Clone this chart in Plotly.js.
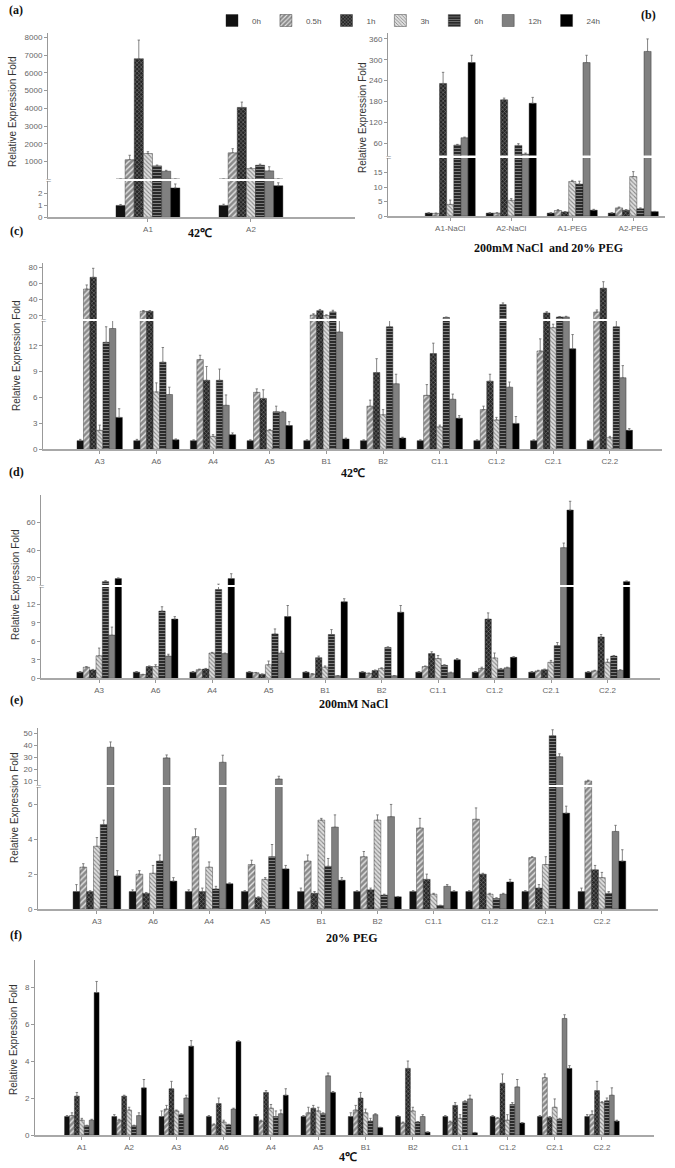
<!DOCTYPE html>
<html>
<head>
<meta charset="utf-8">
<script src="https://cdn.plot.ly/plotly-3.0.1.min.js"></script>
<style>
  html, body { margin: 0; padding: 0; background: #fff; }
  #chart { width: 675px; height: 1168px; }
</style>
</head>
<body>
<div id="chart"></div>
<script>
const W = 675, H = 1168;

// time points (one bar series each)
const series = ['0h', '0.5h', '1h', '3h', '6h', '12h', '24h'];

// categories
const catsA = ['A1', 'A2'];
const catsB = ['A1-NaCl', 'A2-NaCl', 'A1-PEG', 'A2-PEG'];
const catsCDE = ['A3', 'A6', 'A4', 'A5', 'B1', 'B2', 'C1.1', 'C1.2', 'C2.1', 'C2.2'];
const catsF = ['A1', 'A2', 'A3', 'A6', 'A4', 'A5', 'B1', 'B2', 'C1.1', 'C1.2', 'C2.1', 'C2.2'];

// (a) 42C, rows = series
const valsA = [[1.0, 1.0], [1100, 1490], [6800, 4050], [1450, 600], [750, 790], [450, 470], [2.47, 2.65]];
const errA  = [[0.08, 0.1], [250, 230], [1050, 300], [100, 50], [50, 60], [50, 230], [0.33, 0.25]];

// (b) NaCl and PEG
const valsB = [[1, 1, 1, 1], [0.9, 1.0, 1.9, 2.8], [232, 185, 1.4, 2.0], [4.0, 5.4, 11.9, 13.6],
               [55, 54, 11.0, 2.5], [76, 29, 292, 324], [292, 175, 2.0, 1.5]];
const errB  = [[0.1, 0.1, 0.1, 0.1], [0.1, 0.1, 0.3, 0.3], [32, 5, 0.1, 0.2], [1.5, 0.6, 0.4, 1.7],
               [2, 5, 1.0, 0.3], [2, 3, 21, 36], [21, 17, 0.3, 0.1]];

// (c) 42C
const valsC = [[1, 1, 1, 1, 1, 1, 1, 1, 1, 1],
               [53, 25.7, 10.4, 6.6, 21.2, 5.0, 6.25, 4.6, 11.4, 24.9],
               [67.4, 25.7, 8.0, 5.9, 26.5, 8.9, 11.1, 7.9, 23.7, 54],
               [2.2, 6.65, 1.5, 2.2, 20.5, 4.0, 2.6, 3.4, 14.1, 1.35],
               [12.4, 10.1, 8.0, 4.35, 25, 14.2, 18.2, 34, 18.8, 14.2],
               [14.0, 6.35, 5.1, 4.3, 13.6, 7.6, 5.8, 7.2, 18.8, 8.3],
               [3.7, 1.1, 1.7, 2.75, 1.2, 1.3, 3.6, 3.0, 11.65, 2.2]];
const errC  = [[0.15, 0.15, 0.1, 0.1, 0.1, 0.1, 0.1, 0.1, 0.1, 0.15],
               [5, 1, 0.5, 0.4, 1.5, 0.7, 1.25, 0.4, 1.4, 2.5],
               [11, 1, 1.6, 1.0, 1.5, 1.6, 1.2, 0.8, 1.5, 8],
               [0.6, 1.05, 0.2, 0.1, 1, 0.6, 0.2, 0.3, 0.4, 0.15],
               [1.8, 1.7, 1.3, 0.65, 2, 0.8, 0.5, 2, 0.6, 0.8],
               [1.5, 0.85, 1.2, 0.1, 1.9, 1.1, 0.6, 0.6, 0.8, 1.4],
               [1.0, 0.1, 0.2, 0.45, 0.1, 0.1, 0.3, 0.8, 1.65, 0.2]];

// (d) 200mM NaCl
const valsD = [[1, 1, 1, 1, 1, 1, 1, 1, 1, 1],
               [1.8, 0.6, 1.4, 0.9, 0.7, 0.8, 1.9, 1.6, 1.2, 1.2],
               [1.35, 1.9, 1.5, 0.65, 3.35, 1.25, 4.0, 9.6, 1.4, 6.7],
               [3.65, 1.9, 4.1, 2.2, 1.8, 1.6, 3.2, 3.3, 2.6, 2.6],
               [17.3, 10.9, 14.4, 7.2, 7.1, 5.0, 2.1, 1.5, 5.3, 3.6],
               [7.0, 3.6, 4.0, 4.1, 0.4, 0.4, 0.9, 1.7, 41.7, 1.3],
               [19.5, 9.6, 19.5, 10.0, 12.4, 10.7, 3.0, 3.4, 68.7, 17.3]];
const errD  = [[0.1, 0.1, 0.1, 0.1, 0.1, 0.1, 0.1, 0.1, 0.1, 0.1],
               [0.1, 0.05, 0.1, 0.05, 0.05, 0.05, 0.1, 0.2, 0.1, 0.1],
               [0.1, 0.1, 0.1, 0.05, 0.25, 0.1, 0.3, 1.0, 0.1, 0.4],
               [1.25, 0.3, 0.1, 0.6, 0.2, 0.1, 0.5, 0.8, 0.3, 0.5],
               [0.7, 0.7, 1.1, 0.8, 0.8, 0.1, 0.1, 0.1, 0.5, 0.1],
               [1.3, 0.3, 0.1, 0.3, 0.05, 0.05, 0.1, 0.1, 3.3, 0.1],
               [0.5, 0.4, 3.5, 1.8, 0.5, 1.1, 0.2, 0.1, 6.3, 0.5]];

// (e) 20% PEG
const valsE = [[1, 1, 1, 1, 1, 1, 1, 1, 1, 1],
               [2.4, 2.0, 4.15, 2.55, 2.75, 3.0, 4.65, 5.15, 2.95, 10.0],
               [1.0, 0.9, 1.0, 0.65, 0.9, 1.1, 1.7, 2.0, 1.2, 2.25],
               [3.6, 2.05, 2.4, 1.7, 5.1, 5.1, 0.85, 0.85, 2.55, 1.8],
               [4.85, 2.75, 1.15, 3.0, 2.45, 0.8, 0.2, 0.6, 48.3, 0.9],
               [38.5, 29.5, 25.8, 11.7, 4.7, 5.3, 1.3, 0.85, 30.5, 4.45],
               [1.9, 1.6, 1.45, 2.3, 1.65, 0.7, 1.0, 1.55, 5.5, 2.75]];
const errE  = [[0.4, 0.1, 0.1, 0.05, 0.2, 0.05, 0.05, 0.05, 0.05, 0.2],
               [0.2, 0.2, 0.45, 0.25, 0.35, 0.3, 0.55, 0.65, 0.05, 0.7],
               [0.05, 0.05, 0.2, 0.05, 0.1, 0.1, 0.3, 0.05, 0.2, 0.25],
               [0.5, 0.45, 0.3, 0.1, 0.1, 0.3, 0.05, 0.05, 0.45, 0.3],
               [0.25, 0.35, 0.15, 0.7, 0.45, 0.05, 0.02, 0.05, 5, 0.1],
               [4.5, 2.5, 6, 2.3, 0.7, 0.7, 0.1, 0.05, 2.5, 0.35],
               [0.3, 0.2, 0.05, 0.2, 0.15, 0.02, 0.05, 0.15, 0.4, 0.65]];

// (f) 4C
const valsF = [[1, 1, 1, 1, 1, 1, 1, 1, 1, 1, 1, 1],
               [1.05, 0.8, 1.4, 0.55, 0.75, 1.2, 1.35, 0.65, 0.7, 0.9, 3.1, 1.1],
               [2.1, 2.1, 2.5, 1.7, 2.3, 1.45, 2.0, 3.6, 1.6, 2.8, 0.95, 2.4],
               [0.8, 1.35, 1.3, 0.7, 1.45, 1.3, 1.2, 1.3, 0.9, 0.8, 1.5, 1.75],
               [0.5, 0.5, 1.1, 0.55, 1.0, 1.15, 0.75, 0.7, 1.8, 1.65, 0.85, 1.85],
               [0.8, 1.05, 2.0, 1.4, 1.15, 3.2, 1.1, 1.0, 1.95, 2.6, 6.3, 2.15],
               [7.7, 2.55, 4.8, 5.05, 2.15, 2.3, 0.4, 0.15, 0.12, 0.65, 3.6, 0.75]];
const errF  = [[0.05, 0.1, 0.3, 0.05, 0.1, 0.05, 0.2, 0.05, 0.05, 0.05, 0.05, 0.1],
               [0.15, 0.05, 0.2, 0.05, 0.05, 0.3, 0.25, 0.05, 0.05, 0.05, 0.2, 0.2],
               [0.2, 0.05, 0.4, 0.3, 0.1, 0.15, 0.3, 0.4, 0.15, 0.5, 0.05, 0.5],
               [0.1, 0.15, 0.05, 0.1, 0.2, 0.2, 0.2, 0.2, 0.2, 0.3, 0.45, 0.05],
               [0.03, 0.03, 0.05, 0.03, 0.3, 0.05, 0.15, 0.03, 0.05, 0.1, 0.05, 0.15],
               [0.05, 0.15, 0.15, 0.05, 0.2, 0.15, 0.05, 0.1, 0.2, 0.4, 0.2, 0.4],
               [0.6, 0.45, 0.3, 0.05, 0.35, 0.05, 0.02, 0.02, 0.02, 0.02, 0.15, 0.05]];

// y tick labels (lower / upper part of each broken axis)
const ticksALow = [0, 1, 2];
const ticksAUp = [1000, 2000, 3000, 4000, 5000, 6000, 7000, 8000];
const ticksBLow = [0, 5, 10, 15];
const ticksBUp = [60, 120, 180, 240, 300, 360];
const ticksCLow = [0, 3, 6, 9, 12];
const ticksCUp = [20, 40, 60, 80];
const ticksDLow = [0, 3, 6, 9, 12];
const ticksDUp = [20, 40, 60];
const ticksELow = [0, 2, 4, 6];
const ticksEUp = [10, 20, 30, 40, 50];
const ticksF = [0, 2, 4, 6, 8];

// bar fills per time point
const styles = [
  {color: '#111'},
  {color: '#8c8c8c', pattern: {shape: '/', fgcolor: '#e6e6e6', bgcolor: '#8a8a8a', size: 4, solidity: 0.35}},
  {color: '#2b2b2b', pattern: {shape: 'x', fgcolor: '#8a8a8a', bgcolor: '#262626', size: 3, solidity: 0.3}},
  {color: '#d8d8d8', pattern: {shape: '\\', fgcolor: '#8a8a8a', bgcolor: '#dedede', size: 3, solidity: 0.35}},
  {color: '#2e2e2e', pattern: {shape: '-', fgcolor: '#8a8a8a', bgcolor: '#2a2a2a', size: 3, solidity: 0.3}},
  {color: '#808080'},
  {color: '#000'}
];

// panel geometry, in page pixels
const panels = [
  {cats: catsA, vals: valsA, errs: errA, x: [48, 355], xr: [-0.97, 2.01], g: 0.62,
   axes: [{dom: [217.3, 181], r: [0, 3.05], ticks: ticksALow}, {dom: [179, 33], r: [10, 8250], ticks: ticksAUp}],
   label: '(a)', lp: [16, 10], title: '42℃', tp: [200, 233], yt: [13, 112]},
  {cats: catsB, vals: valsB, errs: errB, x: [388, 665], xr: [-1.02, 3.52], g: 0.82,
   axes: [{dom: [216, 158], r: [0, 20], ticks: ticksBLow}, {dom: [155.5, 33], r: [25, 377], ticks: ticksBUp}],
   label: '(b)', lp: [648, 15], title: '200mM NaCl  and 20% PEG', tp: [548, 248], yt: [362, 118]},
  {cats: catsCDE, vals: valsC, errs: errC, x: [43, 662], xr: [-1.0, 9.92], g: 0.8,
   axes: [{dom: [449.3, 321], r: [0, 14.87], ticks: ticksCLow}, {dom: [319, 263], r: [16.3, 84.9], ticks: ticksCUp}],
   label: '(c)', lp: [16, 231], title: '42℃', tp: [353, 473], yt: [16, 356]},
  {cats: catsCDE, vals: valsD, errs: errD, x: [41, 660], xr: [-1.03, 9.93], g: 0.79,
   axes: [{dom: [678.3, 587], r: [0, 14.8], ticks: ticksDLow}, {dom: [585, 495], r: [14.9, 79.5], ticks: ticksDUp}],
   label: '(d)', lp: [16, 472], title: '200mM NaCl', tp: [354, 704], yt: [15, 585]},
  {cats: catsCDE, vals: valsE, errs: errE, x: [38, 658], xr: [-1.05, 10.0], g: 0.85,
   axes: [{dom: [909, 787], r: [0, 7.0], ticks: ticksELow}, {dom: [785, 728], r: [6.6, 54.8], ticks: ticksEUp}],
   label: '(e)', lp: [16, 700], title: '20% PEG', tp: [352, 938], yt: [14, 808]},
  {cats: catsF, vals: valsF, errs: errF, x: [35, 654], xr: [-0.99, 12.1], g: 0.73,
   axes: [{dom: [1135, 960], r: [0, 9.46], ticks: ticksF}],
   label: '(f)', lp: [16, 935], title: '4℃', tp: [348, 1157], yt: [13, 1040]}
];

const tickFont = {family: 'Liberation Sans, Arial', size: 8, color: '#666'};
const serif = {family: 'Liberation Serif, Times New Roman', size: 12, color: '#111'};

const traces = [];
const annotations = [];
const layout = {
  width: W, height: H,
  margin: {l: 0, r: 0, t: 0, b: 0},
  paper_bgcolor: '#fff', plot_bgcolor: 'rgba(0,0,0,0)',
  barmode: 'overlay',
  showlegend: true,
  legend: {orientation: 'h', x: 212 / W, y: 1 - 6 / H, xanchor: 'left', yanchor: 'top',
           font: {family: 'Liberation Sans, Arial', size: 8, color: '#555'},
           itemwidth: 30, tracegroupgap: 0, bgcolor: 'rgba(0,0,0,0)'},
  annotations: annotations
};

let yi = 0;
panels.forEach((p, pi) => {
  const xid = pi === 0 ? 'x' : 'x' + (pi + 1);
  const xkey = pi === 0 ? 'xaxis' : 'xaxis' + (pi + 1);
  const lowId = yi === 0 ? 'y' : 'y' + (yi + 1);
  layout[xkey] = {
    domain: [p.x[0] / W, p.x[1] / W], range: p.xr, type: 'category', anchor: lowId,
    showline: true, linecolor: '#a8a8a8', linewidth: 2, ticks: 'outside', ticklen: 3,
    tickcolor: '#999', tickfont: tickFont, showgrid: false, zeroline: false, fixedrange: true
  };
  const n = series.length, w = p.g / n;
  p.axes.forEach((ax, ai) => {
    yi++;
    const yid = yi === 1 ? 'y' : 'y' + yi;
    const ykey = yi === 1 ? 'yaxis' : 'yaxis' + yi;
    layout[ykey] = {
      domain: [1 - ax.dom[0] / H, 1 - ax.dom[1] / H], range: ax.r, anchor: xid,
      tickmode: 'array', tickvals: ax.ticks, showline: true, linecolor: '#999', linewidth: 1,
      ticks: 'outside', ticklen: 3, tickcolor: '#999', tickfont: tickFont,
      showgrid: false, zeroline: false, fixedrange: true
    };
    series.forEach((s, si) => {
      traces.push({
        type: 'bar', name: s, legendgroup: s, showlegend: pi === 0 && ai === 0,
        x: p.cats, y: p.vals[si], xaxis: xid, yaxis: yid,
        width: w, offset: -p.g / 2 + si * w,
        marker: Object.assign({line: {color: '#222', width: 0.4}}, styles[si]),
        error_y: {type: 'data', symmetric: false, array: p.errs[si],
                  arrayminus: p.errs[si].map(() => 0), color: '#666', thickness: 0.8, width: 1.2},
        hoverinfo: 'x+y+name'
      });
    });
  });
  // break mark on the y axis
  if (p.axes.length > 1) {
    annotations.push({xref: 'paper', yref: 'paper', x: p.x[0] / W, y: 1 - (p.axes[0].dom[1] - 1) / H,
      text: '=', showarrow: false, font: {family: 'Liberation Sans, Arial', size: 9, color: '#888'},
      xanchor: 'center', yanchor: 'middle'});
  }
  annotations.push({xref: 'paper', yref: 'paper', x: p.lp[0] / W, y: 1 - p.lp[1] / H, text: '<b>' + p.label + '</b>',
    showarrow: false, font: serif, xanchor: 'center', yanchor: 'middle'});
  annotations.push({xref: 'paper', yref: 'paper', x: p.tp[0] / W, y: 1 - p.tp[1] / H, text: '<b>' + p.title + '</b>',
    showarrow: false, font: serif, xanchor: 'center', yanchor: 'middle'});
  annotations.push({xref: 'paper', yref: 'paper', x: p.yt[0] / W, y: 1 - p.yt[1] / H, text: 'Relative Expression Fold',
    textangle: -90, showarrow: false, font: {family: 'Liberation Sans, Arial', size: 10, color: '#333'},
    xanchor: 'center', yanchor: 'middle'});
});

Plotly.newPlot('chart', traces, layout, {staticPlot: true});
</script>
</body>
</html>
